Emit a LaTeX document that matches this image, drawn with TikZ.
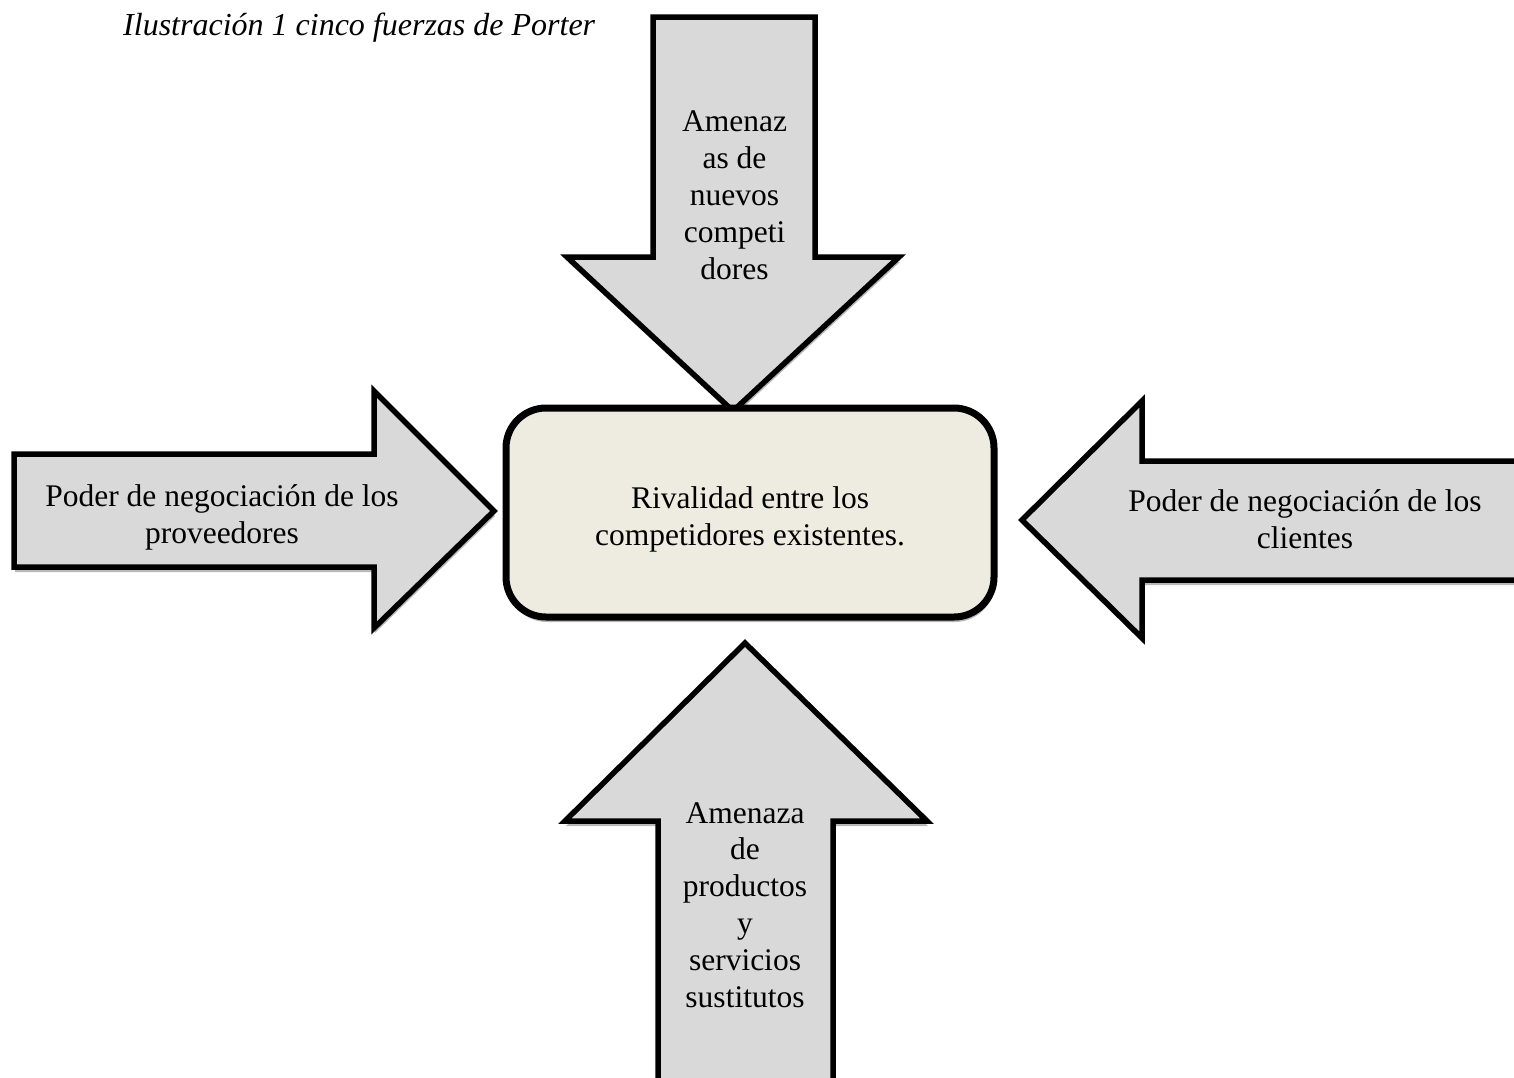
\documentclass[tikz,border=0pt]{standalone}
\usepackage{fontspec}
\setmainfont{Liberation Serif}
\usetikzlibrary{shadows}
\definecolor{forcegray}{HTML}{D9D9D9}
\definecolor{hubtan}{HTML}{EEECE1}
\begin{document}
\begin{tikzpicture}[x=1pt,y=-1pt,
  softshadow/.style={drop shadow={shadow xshift=1pt, shadow yshift=-5pt, opacity=0.28, fill=black}},
  forcearrow/.style={draw=black, line width=5.5pt, fill=forcegray, line join=miter, miter limit=10, softshadow},
  hubbox/.style={draw=black, line width=7pt, fill=hubtan, rounded corners=40pt, softshadow},
  lbl/.style={align=center, anchor=base, inner sep=0pt, font=\fontsize{31.5}{36.8}\selectfont},
  captiontext/.style={anchor=base west, inner sep=0pt, font=\fontsize{32}{38}\selectfont\itshape}
]
\useasboundingbox (0,0) rectangle (1514,1077);
\clip (0,0) rectangle (1514,1077);
\fill[white] (0,0) rectangle (1514,1077);

% top arrow (new entrants)
\path[forcearrow] (653,17) -- (815,17) -- (815,257) -- (899,257) -- (733,411) -- (567,257) -- (653,257) -- cycle;
% left arrow (suppliers)
\path[forcearrow] (14,454) -- (374,454) -- (374,391) -- (494,511) -- (374,628) -- (374,567) -- (14,567) -- cycle;
% right arrow (customers)
\path[forcearrow] (1540,461) -- (1142,461) -- (1142,401) -- (1022,520) -- (1142,638) -- (1142,580) -- (1540,580) -- cycle;
% bottom arrow (substitutes)
\path[forcearrow] (745,643) -- (927,821) -- (833,821) -- (833,1110) -- (658,1110) -- (658,821) -- (565,821) -- cycle;
% center box
\path[hubbox] (506,408) rectangle (994,617);

% multi-line labels: the base anchor sits on the last line's baseline
\node[captiontext] (title) at (123,35) {Ilustración 1 cinco fuerzas de Porter};
\node[lbl] (rivalry) at (750,545) {Rivalidad entre los\\competidores existentes.};
\node[lbl] (entrants) at (734.5,279) {Amenaz\\as de\\nuevos\\competi\\dores};
\node[lbl] (suppliers) at (222,543) {Poder de negociación de los\\proveedores};
\node[lbl] (customers) at (1305,548) {Poder de negociación de los\\clientes};
\node[lbl] (substitutes) at (745,1007) {Amenaza\\de\\productos\\y\\servicios\\sustitutos};
\end{tikzpicture}
\end{document}
